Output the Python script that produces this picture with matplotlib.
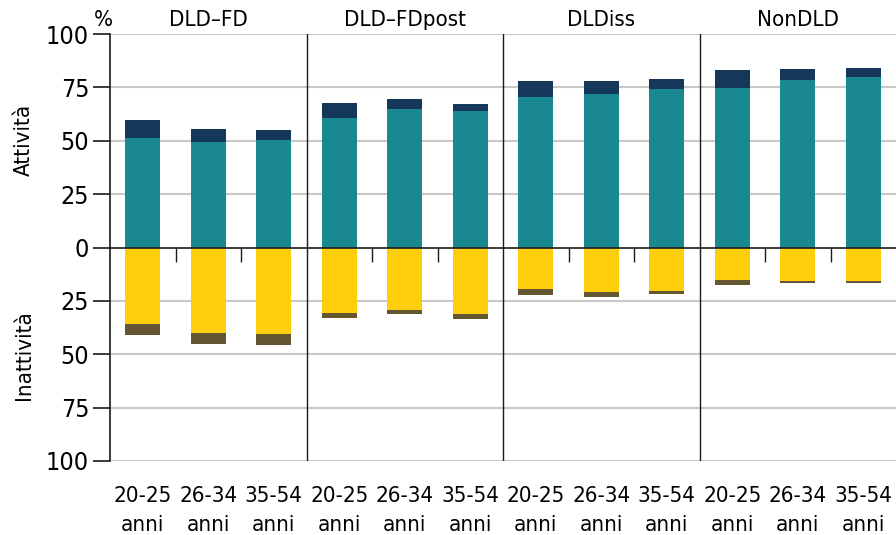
import numpy as np
import matplotlib.pyplot as plt
from matplotlib import font_manager

# cerca un font condensato installato, altrimenti Liberation Sans
cond = None
for f in font_manager.fontManager.ttflist:
    nm = f.name.lower()
    narrow = ('narrow' in nm or 'condensed' in nm or
              str(f.stretch) in ('condensed', 'semi-condensed', 'extra-condensed', '75', '87.5'))
    if narrow and f.style == 'normal' and f.weight in (400, 'normal', 'regular'):
        if 'mono' in nm or 'serif' in nm and 'sans' not in nm:
            continue
        cond = f
        break
if cond is not None:
    FP = dict(fname=cond.fname)
else:
    FP = dict(family='Liberation Sans')

groups = ['DLD\u2013FD', 'DLD\u2013FDpost', 'DLDiss', 'NonDLD']
ages = ['20-25\nanni', '26-34\nanni', '35-54\nanni']

# attività: occupati (teal) + totale attivi
att_teal = [51.3, 49.3, 50.2, 60.7, 65.0, 63.8, 70.4, 71.8, 74.1, 74.9, 78.6, 79.8]
att_tot = [59.6, 55.4, 54.9, 67.5, 69.4, 67.2, 78.2, 77.9, 78.8, 83.1, 83.5, 83.9]
# inattività: giallo + totale
ina_yel = [36.0, 40.1, 40.5, 30.8, 29.1, 31.3, 19.6, 20.7, 20.2, 15.4, 15.5, 15.9]
ina_tot = [41.2, 45.3, 45.7, 32.8, 31.3, 33.6, 22.2, 23.0, 21.6, 17.6, 16.8, 16.8]

c_teal = '#1a8891'
c_navy = '#14375a'
c_yel = '#fcce0c'
c_brown = '#635631'

def fp(size):
    return font_manager.FontProperties(size=size, **FP)

fig = plt.figure(figsize=(8.96, 5.35), dpi=100)
ax = fig.add_axes([110/896, 1-461/535, 786/896, 427/535])

x = np.arange(len(att_teal))
w = 0.53
att_teal = np.array(att_teal); att_tot = np.array(att_tot)
ina_yel = np.array(ina_yel); ina_tot = np.array(ina_tot)

ax.bar(x, att_teal, w, color=c_teal, zorder=3)
ax.bar(x, att_tot - att_teal, w, bottom=att_teal, color=c_navy, zorder=3)
ax.bar(x, -ina_yel, w, color=c_yel, zorder=3)
ax.bar(x, -(ina_tot - ina_yel), w, bottom=-ina_yel, color=c_brown, zorder=3)

ax.set_xlim(-0.5, 11.5)
ax.set_ylim(-100, 100)
yt = [-100, -75, -50, -25, 0, 25, 50, 75, 100]
ax.set_yticks(yt)
ax.set_yticklabels([str(abs(v)) for v in yt], fontproperties=fp(18))
for v in yt:
    if v != 0:
        ax.axhline(v, color='#c8c8c8', lw=1.5, zorder=1)
ax.axhline(0, color='#1a1a1a', lw=1.2, zorder=4)

ng = len(groups)
for i in range(1, ng):
    ax.axvline(i * 3 - 0.5, color='#1a1a1a', lw=1, zorder=4)
for i in range(ng):
    for j in (0.5, 1.5):
        ax.vlines(i * 3 + j, -7, 0, color='#1a1a1a', lw=1, zorder=4)

ax.set_xticks(x)
ax.set_xticklabels(ages * ng, fontproperties=fp(16), linespacing=1.55)
ax.tick_params(axis='x', length=0, pad=18)
ax.tick_params(axis='y', length=12, width=1.2, color='#1a1a1a', pad=3)
for s in ('top', 'right', 'bottom'):
    ax.spines[s].set_visible(False)
ax.spines['left'].set_color('#1a1a1a')
ax.spines['left'].set_linewidth(1.2)

for i, g in enumerate(groups):
    ax.text(i * 3 + 1, 101.8, g, ha='center', va='bottom', fontproperties=fp(16))
ax.text(-0.6, 101.8, '%', ha='center', va='bottom', fontproperties=fp(16))
fig.text(24/896, 1-140/535, 'Attività', rotation=90, ha='center', va='center', fontproperties=fp(16))
fig.text(24/896, 1-355/535, 'Inattività', rotation=90, ha='center', va='center', fontproperties=fp(16))

fig.savefig('out.png', dpi=100)
